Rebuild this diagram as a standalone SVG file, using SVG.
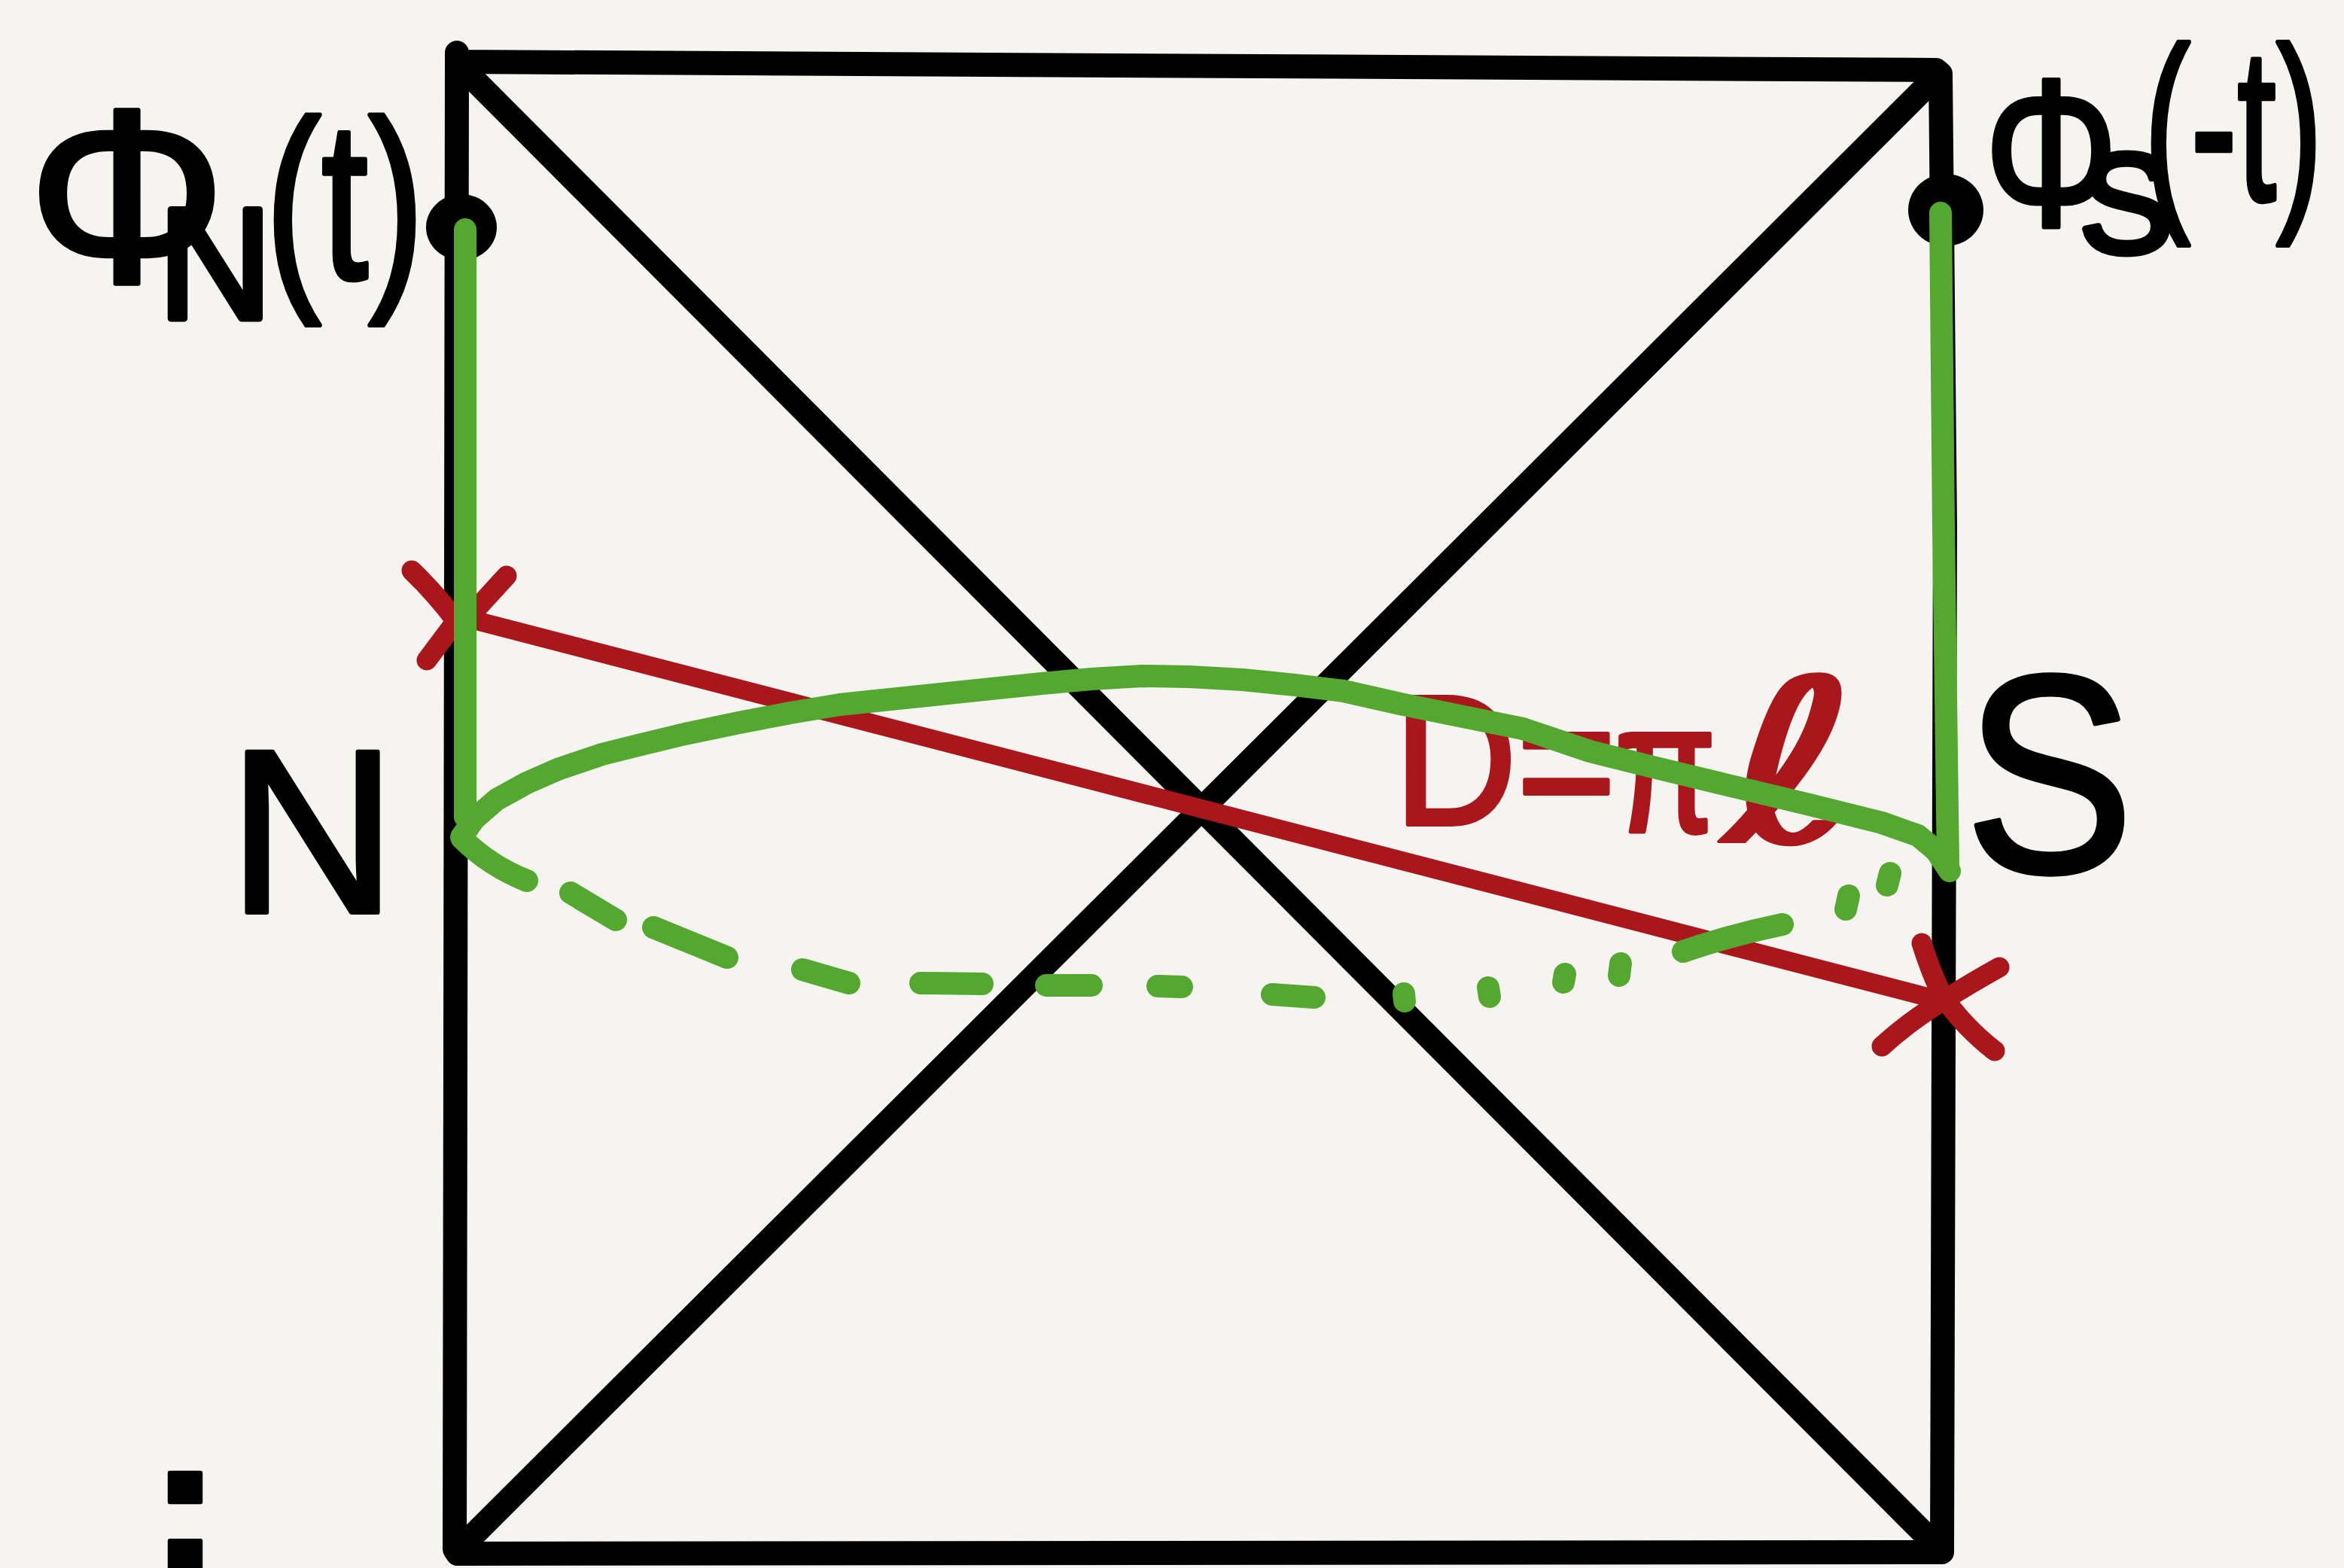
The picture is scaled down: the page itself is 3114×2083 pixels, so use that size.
<svg xmlns="http://www.w3.org/2000/svg" width="3114" height="2083" viewBox="0 0 3114 2083">
<style>
.ink{fill:none;stroke:#000;stroke-width:32px;stroke-linecap:round;stroke-linejoin:round}
.grn{fill:none;stroke:#55a82f;stroke-width:30px;stroke-linecap:round;stroke-linejoin:round}
.dash{fill:none;stroke:#55a82f;stroke-width:30px;stroke-linecap:round;stroke-linejoin:round}
.red{fill:none;stroke:#a9161b;stroke-width:25px;stroke-linecap:round;stroke-linejoin:round}
.redx{fill:none;stroke:#a9161b;stroke-width:27px;stroke-linecap:round;stroke-linejoin:round}
.lbl{font-family:"Liberation Sans","DejaVu Sans",sans-serif;fill:#000;stroke:#000;stroke-width:6px;stroke-linejoin:round}
.rlbl{font-family:"Liberation Sans","DejaVu Sans",sans-serif;fill:#a9161b;stroke:#a9161b;stroke-width:6px;stroke-linejoin:round}
.pt{fill:#000}
</style>
<rect width="3114" height="2083" fill="#f5f4f0"/>

<g id="penrose-frame">
<path class="ink" d="M607,70 L607,82 L2572,93 L2578,98 L2584,700 L2580,2062 L608,2064 L604,2058 L607,82"/>
<path class="ink" d="M614,90 L2573,2054"/>
<path class="ink" d="M614,2054 L2572,102"/>
</g>

<g id="label-D">
<text class="rlbl"><tspan x="1852" y="1095" font-size="245" textLength="295" lengthAdjust="spacingAndGlyphs">D=</tspan><tspan x="2145" y="1105" font-size="245" textLength="135" lengthAdjust="spacingAndGlyphs">π</tspan><tspan x="2290" y="1118" font-size="300" textLength="180" lengthAdjust="spacingAndGlyphs" font-family="DejaVu Sans, sans-serif" stroke-width="4">ℓ</tspan></text>
</g>

<g id="red-geodesic">
<path class="red" d="M615,820 L2578,1329"/>
<path class="redx" d="M547,758 Q580,790 606,825 L567,877 M673,765 Q650,790 630,812"/>
<path class="redx" d="M2553,1253 Q2568,1300 2582,1325 Q2610,1365 2650,1396 M2656,1285 Q2620,1305 2580,1330 Q2535,1358 2500,1390"/>
</g>

<g id="point-phiN"><ellipse class="pt" cx="613" cy="302" rx="47" ry="44"/></g>
<g id="point-phiS"><ellipse class="pt" cx="2585" cy="279" rx="50" ry="48"/></g>

<g id="green-curves">
<path class="grn" d="M618,305 L618,1085"/>
<path class="grn" d="M2578,283 L2582,700 L2588,1152"/>
<path class="grn" d="M613,1112 L630,1088 L660,1062 L700,1040 L741,1022 L800,1002 L848,990 L910,975 L982,960 L1050,947 L1116,936 L1250,922 L1384,908 L1450,902 L1517,898 L1580,899 L1651,903 L1720,910 L1785,918 L1860,935 L1934,950 L2023,968 L2112,998 L2200,1020 L2291,1042 L2400,1068 L2500,1093 L2548,1110 L2572,1130 L2590,1157"/>
</g>

<g id="green-dashed">
<path class="dash" d="M614,1114 Q650,1150 700,1170"/>
<path class="dash" d="M758,1186 L818,1222"/>
<path class="dash" d="M868,1232 L966,1272"/>
<path class="dash" d="M1066,1288 L1128,1306"/>
<path class="dash" d="M1223,1306 L1305,1307"/>
<path class="dash" d="M1390,1309 L1450,1309"/>
<path class="dash" d="M1538,1310 L1570,1311"/>
<path class="dash" d="M1690,1321 L1746,1325"/>
<path class="dash" d="M1865,1320 L1866,1330"/>
<path class="dash" d="M1977,1312 L1979,1324"/>
<path class="dash" d="M2079,1294 L2077,1305"/>
<path class="dash" d="M2153,1280 L2151,1296"/>
<path class="dash" d="M2236,1264 Q2300,1242 2368,1228"/>
<path class="dash" d="M2456,1190 L2452,1208"/>
<path class="dash" d="M2511,1160 L2507,1176"/>
</g>

<g id="label-phiN">
<text class="lbl"><tspan x="36" y="375" font-size="330" textLength="265" lengthAdjust="spacingAndGlyphs">Φ</tspan><tspan x="210" y="423" font-size="210" stroke-width="9">N</tspan><tspan x="352" y="370" font-size="300" textLength="212" lengthAdjust="spacingAndGlyphs">(t)</tspan></text>
</g>

<g id="label-phiS">
<text class="lbl"><tspan x="2636" y="300" font-size="280" textLength="178" lengthAdjust="spacingAndGlyphs">Φ</tspan><tspan x="2762" y="335" font-size="188" stroke-width="9">S</tspan><tspan x="2848" y="266" font-size="290" textLength="238" lengthAdjust="spacingAndGlyphs">(-t)</tspan></text>
</g>

<g id="label-N">
<text class="lbl" x="303" y="1212" font-size="310">N</text>
</g>

<g id="label-S">
<text class="lbl" x="2610" y="1158" font-size="375" textLength="225" lengthAdjust="spacingAndGlyphs">S</text>
</g>

<g id="label-i">
<text class="lbl" x="195" y="2290" font-size="460">i</text>
</g>
</svg>
